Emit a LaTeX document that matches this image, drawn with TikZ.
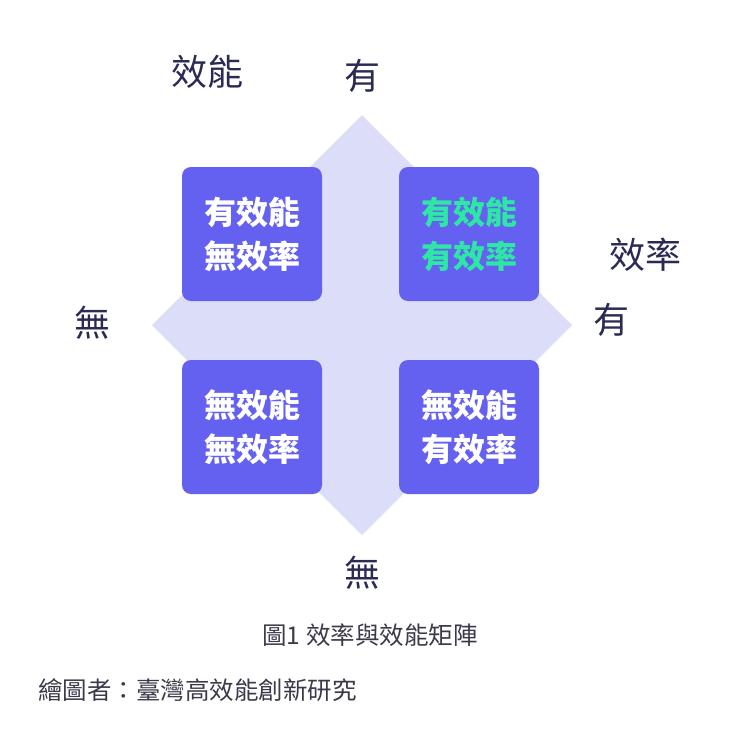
\documentclass[tikz,border=0pt]{standalone}
\usepackage{fontspec}
\setmainfont{Noto Sans CJK TC}
\definecolor{box}{HTML}{6461F0}
\definecolor{dia}{HTML}{DCDDF8}
\definecolor{lab}{HTML}{2B2A55}
\definecolor{grn}{HTML}{2EE6A6}
\definecolor{cap}{HTML}{3A3A4A}
\begin{document}
\begin{tikzpicture}[x=1pt,y=-1pt,
  quad/.style={fill=box,rounded corners=9pt,minimum width=140pt,minimum height=134pt,inner sep=0pt,
    font=\fontsize{32}{44}\selectfont\bfseries,text=white,align=center},
  lbl/.style={font=\fontsize{36}{40}\selectfont,text=lab,inner sep=0pt},
  captxt/.style={font=\fontsize{24.5}{28}\selectfont,text=cap,inner sep=0pt}]
\useasboundingbox (0,0) rectangle (740,740);
\fill[dia] (362,115) -- (572,325) -- (362,535) -- (152,325) -- cycle;
\node[quad] (tl) at (252,234) {有效能\\無效率};
\node[quad,text=grn] (tr) at (469,234) {有效能\\有效率};
\node[quad] (bl) at (252,427) {無效能\\無效率};
\node[quad] (br) at (469,427) {無效能\\有效率};
\node[lbl] (eff) at (207,72) {效能};
\node[lbl] (top) at (362,76) {有};
\node[lbl] (rate) at (645,255) {效率};
\node[lbl] (right) at (611,320) {有};
\node[lbl] (left) at (92,323) {無};
\node[lbl] (bot) at (362,573) {無};
\node[captxt] (c1) at (370,635) {圖1 效率與效能矩陣};
\node[captxt,anchor=west] (c2) at (38,690) {繪圖者：臺灣高效能創新研究};
\end{tikzpicture}
\end{document}
